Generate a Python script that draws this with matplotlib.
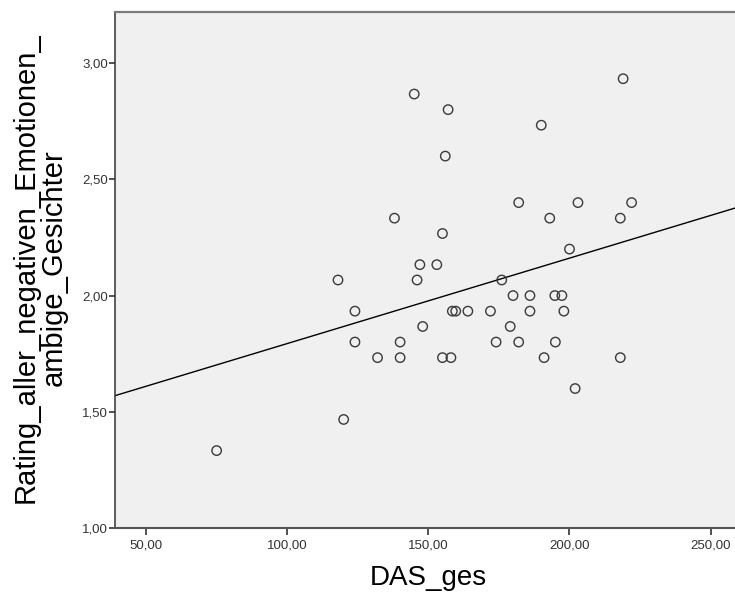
import matplotlib
matplotlib.use("Agg")
import matplotlib.pyplot as plt
from matplotlib.ticker import FuncFormatter

plt.rcParams['font.family'] = ['Liberation Sans', 'DejaVu Sans']

# DAS_ges scores and the rating of all negative emotions (ambiguous faces)
das_ges = [75, 120, 118, 124, 124, 132, 140, 140, 138, 145,
           157, 156, 155, 153, 147, 146, 148, 155, 158, 158.5,
           159.7, 164, 172, 174, 179, 180, 182, 186, 186, 176,
           182, 193, 190, 194.8, 197.3, 198, 191, 195, 202, 218,
           200, 203, 218, 222, 219]
rating = [1.333, 1.467, 2.067, 1.933, 1.800, 1.733, 1.800, 1.733, 2.333, 2.867,
          2.800, 2.600, 2.267, 2.133, 2.133, 2.067, 1.867, 1.733, 1.733, 1.933,
          1.933, 1.933, 1.933, 1.800, 1.867, 2.000, 1.800, 2.000, 1.933, 2.067,
          2.400, 2.333, 2.733, 2.000, 2.000, 1.933, 1.733, 1.800, 1.600, 1.733,
          2.200, 2.400, 2.333, 2.400, 2.933]

# linear fit line as shown in the chart
fit_intercept = 1.426
fit_slope = 0.003675

x_ticks = [50, 100, 150, 200, 250]
y_ticks = [1.0, 1.5, 2.0, 2.5, 3.0]
x_range = (39.0, 260.4)
y_range = (1.0, 3.22)

fig = plt.figure(figsize=(7.35, 6.01), dpi=100)
ax = fig.add_axes([115 / 735, 1 - 528 / 601, 625 / 735, 516 / 601])
ax.set_facecolor('#f0f0f0')

ax.scatter(das_ges, rating, s=46, facecolors='none', edgecolors='#3a3a3a',
           linewidths=1.0, zorder=3, clip_on=False)

xs = list(x_range)
ax.plot(xs, [fit_intercept + fit_slope * v for v in xs], color='black', lw=1.0, zorder=2)

ax.set_xlim(*x_range)
ax.set_ylim(*y_range)
ax.set_xticks(x_ticks)
ax.set_yticks(y_ticks)
comma = FuncFormatter(lambda v, p: f"{v:.2f}".replace('.', ','))
ax.xaxis.set_major_formatter(comma)
ax.yaxis.set_major_formatter(comma)
ax.tick_params(axis='x', direction='out', length=5, width=1.2, color='#333333',
               labelsize=9.5, labelcolor='#333333', pad=3)
ax.tick_params(axis='y', direction='out', length=4, width=1.2, color='#333333',
               labelsize=9.5, labelcolor='#333333', pad=1)

ax.spines['right'].set_visible(False)
ax.spines['top'].set_color('#7a7a7a')
ax.spines['top'].set_linewidth(1.6)
ax.spines['left'].set_color('#333333')
ax.spines['left'].set_linewidth(1.1)
ax.spines['bottom'].set_color('#555555')
ax.spines['bottom'].set_linewidth(1.5)

ax.set_xlabel('DAS_ges', fontsize=20, color='black')
ax.xaxis.set_label_coords(0.502, -0.072)
ax.set_ylabel('Rating_aller_negativen_Emotionen_\nambige_Gesichter',
              fontsize=21, color='black', linespacing=1.0)
ax.yaxis.set_label_coords(-0.075, 0.505)

fig.savefig('out.png', dpi=100)
